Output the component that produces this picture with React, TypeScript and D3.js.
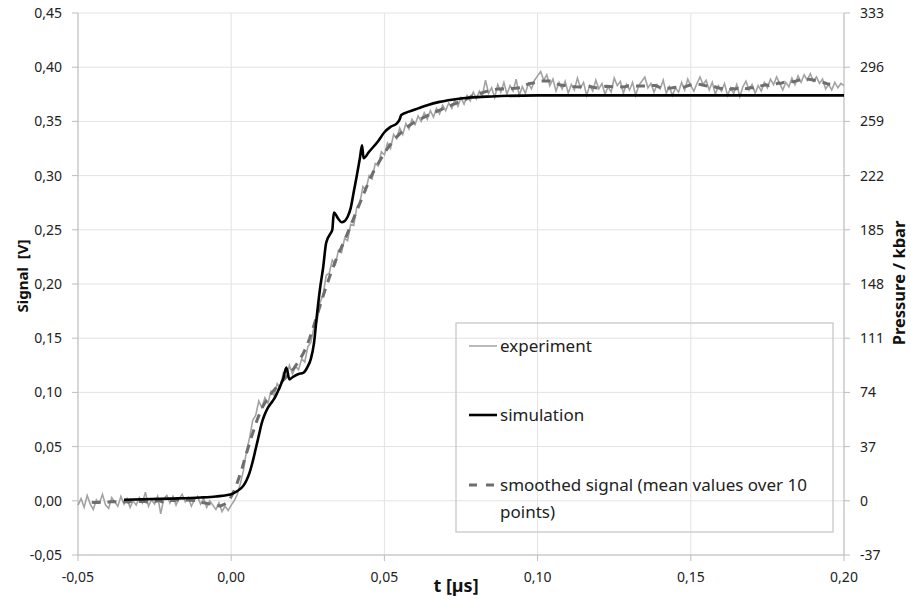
import * as React from 'react';
import * as d3 from 'd3';

// signal [V] of the experiment, one sample per 0.001 µs from -0.05 to 0.20
const expStart = -0.05;
const expStep = 0.001;
const experiment = [
  -0.004, 0.002, -0.006, 0.005, -0.003, -0.008, 0.001, -0.002, 0.006, -0.004,
  -0.007, 0.003, -0.001, -0.005, 0.004, -0.003, 0.002, -0.006, 0.0, -0.004,
  0.003, -0.002, 0.008, -0.005, 0.001, -0.003, 0.004, -0.012, 0.002, 0.005,
  -0.002, 0.004, -0.004, 0.002, 0.006, -0.001, 0.003, -0.005, 0.001, 0.004,
  -0.003, 0.002, -0.006, 0.0, -0.004, -0.008, -0.002, -0.01, -0.005, -0.009,
  -0.004, 0.0, 0.006, 0.016, 0.028, 0.046, 0.058, 0.074, 0.079, 0.092,
  0.086, 0.095, 0.09, 0.101, 0.097, 0.108, 0.104, 0.118, 0.114, 0.125,
  0.117, 0.124, 0.121, 0.131, 0.128, 0.142, 0.146, 0.16, 0.165, 0.183,
  0.19, 0.208, 0.21, 0.222, 0.218, 0.231, 0.229, 0.242, 0.24, 0.255,
  0.254, 0.271, 0.275, 0.29, 0.287, 0.3, 0.297, 0.311, 0.309, 0.322,
  0.319, 0.33, 0.325, 0.338, 0.334, 0.344, 0.338, 0.348, 0.343, 0.352,
  0.347, 0.355, 0.35, 0.358, 0.352, 0.36, 0.354, 0.362, 0.357, 0.365,
  0.36, 0.367, 0.362, 0.37, 0.364, 0.372, 0.366, 0.374, 0.369, 0.377,
  0.371, 0.378, 0.374, 0.388, 0.376, 0.381, 0.372, 0.384, 0.377, 0.386,
  0.375, 0.383, 0.378, 0.389, 0.374, 0.382, 0.376, 0.385, 0.38, 0.388,
  0.392, 0.396, 0.388, 0.393, 0.383, 0.389, 0.378, 0.386, 0.38, 0.387,
  0.376, 0.384, 0.379, 0.39, 0.381, 0.386, 0.374, 0.383, 0.378, 0.388,
  0.38, 0.385, 0.375, 0.382, 0.377, 0.39, 0.383, 0.387, 0.376, 0.384,
  0.379, 0.386, 0.374, 0.383, 0.387, 0.391, 0.381, 0.385, 0.377, 0.384,
  0.38, 0.388, 0.376, 0.382, 0.374, 0.381, 0.377, 0.386, 0.379, 0.389,
  0.383, 0.378, 0.385, 0.391, 0.384, 0.388, 0.379, 0.386, 0.375, 0.383,
  0.378, 0.385, 0.374, 0.381, 0.376, 0.384, 0.373, 0.382, 0.387, 0.379,
  0.384, 0.376, 0.383, 0.378, 0.386, 0.381, 0.389, 0.384, 0.391, 0.385,
  0.379, 0.386, 0.382, 0.39, 0.384, 0.392, 0.386, 0.393, 0.388, 0.394,
  0.387, 0.391, 0.385, 0.389, 0.38, 0.384, 0.379, 0.386, 0.381, 0.385,
  0.383,
];

// simulation: [t µs, signal V]
const simulation: [number, number][] = [
  [-0.035, 0.001], [-0.02, 0.002], [-0.01, 0.003], [-0.005, 0.004], [0.0, 0.006],
  [0.002, 0.009], [0.004, 0.014], [0.005, 0.019], [0.006, 0.026], [0.007, 0.036],
  [0.008, 0.048], [0.009, 0.06], [0.01, 0.072], [0.011, 0.08], [0.012, 0.086],
  [0.013, 0.09], [0.014, 0.094], [0.016, 0.106], [0.017, 0.113], [0.018, 0.123],
  [0.019, 0.112], [0.02, 0.114], [0.022, 0.117], [0.0235, 0.118], [0.025, 0.124],
  [0.026, 0.131], [0.027, 0.145], [0.028, 0.172], [0.029, 0.196], [0.03, 0.215],
  [0.031, 0.238], [0.0325, 0.247], [0.033, 0.25], [0.0335, 0.266], [0.035, 0.26],
  [0.036, 0.257], [0.037, 0.258], [0.038, 0.262], [0.039, 0.27], [0.04, 0.285],
  [0.041, 0.3], [0.042, 0.316], [0.0427, 0.328], [0.0432, 0.316], [0.045, 0.322],
  [0.048, 0.332], [0.05, 0.34], [0.052, 0.345], [0.054, 0.348], [0.055, 0.352],
  [0.0555, 0.356], [0.058, 0.359], [0.061, 0.362], [0.064, 0.365], [0.068, 0.368],
  [0.072, 0.37], [0.078, 0.372], [0.085, 0.373], [0.1, 0.374], [0.2, 0.374],
];

const xTicks = [-0.05, 0.0, 0.05, 0.1, 0.15, 0.2];
const yTicks = [-0.05, 0.0, 0.05, 0.1, 0.15, 0.2, 0.25, 0.3, 0.35, 0.4, 0.45];
const pressureTicks = [-37, 0, 37, 74, 111, 148, 185, 222, 259, 296, 333];

const W = 911;
const H = 601;
const margin = { top: 13, right: 67, bottom: 46, left: 78 };
const font = '"Noto Sans", "Open Sans", sans-serif';

const comma = (v: number) => v.toFixed(2).replace('.', ',');

const App = () => {
  React.useEffect(() => {
    document.body.style.margin = '0';
  }, []);

  const x = d3.scaleLinear().domain([-0.05, 0.2]).range([margin.left, W - margin.right]);
  const y = d3.scaleLinear().domain([-0.05, 0.45]).range([H - margin.bottom, margin.top]);
  const yP = d3.scaleLinear().domain([-37, 333]).range([H - margin.bottom, margin.top]);

  const expPts: [number, number][] = experiment.map((v, i) => [expStart + i * expStep, v]);
  // moving mean over 10 points
  const smoothPts: [number, number][] = [];
  for (let i = 9; i < experiment.length; i++) {
    const m = d3.mean(experiment.slice(i - 9, i + 1)) as number;
    smoothPts.push([expStart + (i - 4.5) * expStep, m]);
  }

  const simLine = d3
    .line<[number, number]>()
    .x(d => x(d[0]))
    .y(d => y(d[1]))
    .curve(d3.curveMonotoneX);
  const plainLine = d3
    .line<[number, number]>()
    .x(d => x(d[0]))
    .y(d => y(d[1]));

  const x0 = margin.left;
  const x1 = W - margin.right;
  const y0 = H - margin.bottom;

  const lg = { x: 456, y: 323, w: 377, h: 209 };

  return (
    <svg width={W} height={H} style={{ display: 'block', background: '#fff' }} fontFamily={font}>
      {/* grid */}
      {yTicks.map(t => (
        <line key={'gy' + t} x1={x0} x2={x1} y1={y(t)} y2={y(t)} stroke="#e3e3e3" strokeWidth={1} />
      ))}
      {xTicks.map(t => (
        <line key={'gx' + t} x1={x(t)} x2={x(t)} y1={margin.top} y2={y0} stroke="#e3e3e3" strokeWidth={1} />
      ))}
      {/* axes */}
      <line x1={x0} x2={x0} y1={margin.top} y2={y0} stroke="#bdbdbd" />
      <line x1={x1} x2={x1} y1={margin.top} y2={y0} stroke="#bdbdbd" />
      <line x1={x0} x2={x1} y1={y0} y2={y0} stroke="#bdbdbd" />
      {yTicks.map(t => (
        <g key={'ly' + t}>
          <line x1={x0 - 6} x2={x0} y1={y(t)} y2={y(t)} stroke="#bdbdbd" />
          <text x={62} y={y(t)} dy="0.35em" textAnchor="end" fontSize={14} fill="#222">
            {comma(t)}
          </text>
        </g>
      ))}
      {pressureTicks.map(t => (
        <g key={'lp' + t}>
          <line x1={x1} x2={x1 + 6} y1={yP(t)} y2={yP(t)} stroke="#bdbdbd" />
          <text x={860} y={yP(t)} dy="0.35em" textAnchor="start" fontSize={14} fill="#222">
            {t}
          </text>
        </g>
      ))}
      {xTicks.map(t => (
        <g key={'lx' + t}>
          <line x1={x(t)} x2={x(t)} y1={y0} y2={y0 + 6} stroke="#bdbdbd" />
          <text x={x(t)} y={y0 + 27} textAnchor="middle" fontSize={14} fill="#222">
            {comma(t)}
          </text>
        </g>
      ))}
      {/* titles */}
      <text x={456} y={592} textAnchor="middle" fontSize={18} fontWeight="bold" fill="#111">
        t [µs]
      </text>
      <text
        transform="translate(28,276) rotate(-90)"
        textAnchor="middle"
        fontSize={15}
        fontWeight="bold"
        fill="#111"
        style={{ whiteSpace: 'pre' }}
      >
        {'Signal  [V]'}
      </text>
      <text
        transform="translate(905,283) rotate(-90)"
        textAnchor="middle"
        fontSize={16.5}
        fontWeight="bold"
        fill="#111"
      >
        Pressure / kbar
      </text>
      {/* data */}
      <path d={plainLine(expPts) as string} fill="none" stroke="#a3a3a3" strokeWidth={1.6} />
      <path
        d={plainLine(smoothPts) as string}
        fill="none"
        stroke="#6e6e6e"
        strokeWidth={3}
        strokeDasharray="9 7"
      />
      <path d={simLine(simulation) as string} fill="none" stroke="#000" strokeWidth={2.6} />
      {/* legend */}
      <rect x={lg.x} y={lg.y} width={lg.w} height={lg.h} fill="none" stroke="#c4c4c4" strokeWidth={1.2} />
      <line x1={469} x2={497} y1={346} y2={346} stroke="#a3a3a3" strokeWidth={1.5} />
      <text x={500} y={346} dy="0.35em" fontSize={17} fill="#222">experiment</text>
      <line x1={469} x2={497} y1={415} y2={415} stroke="#000" strokeWidth={2.6} />
      <text x={500} y={415} dy="0.35em" fontSize={17} fill="#222">simulation</text>
      <line x1={469} x2={497} y1={485} y2={485} stroke="#6e6e6e" strokeWidth={3} strokeDasharray="8 9" />
      <text x={500} y={485} dy="0.35em" fontSize={17} fill="#222">smoothed signal (mean values over 10</text>
      <text x={500} y={512} dy="0.35em" fontSize={17} fill="#222">points)</text>
    </svg>
  );
};

export default App;
